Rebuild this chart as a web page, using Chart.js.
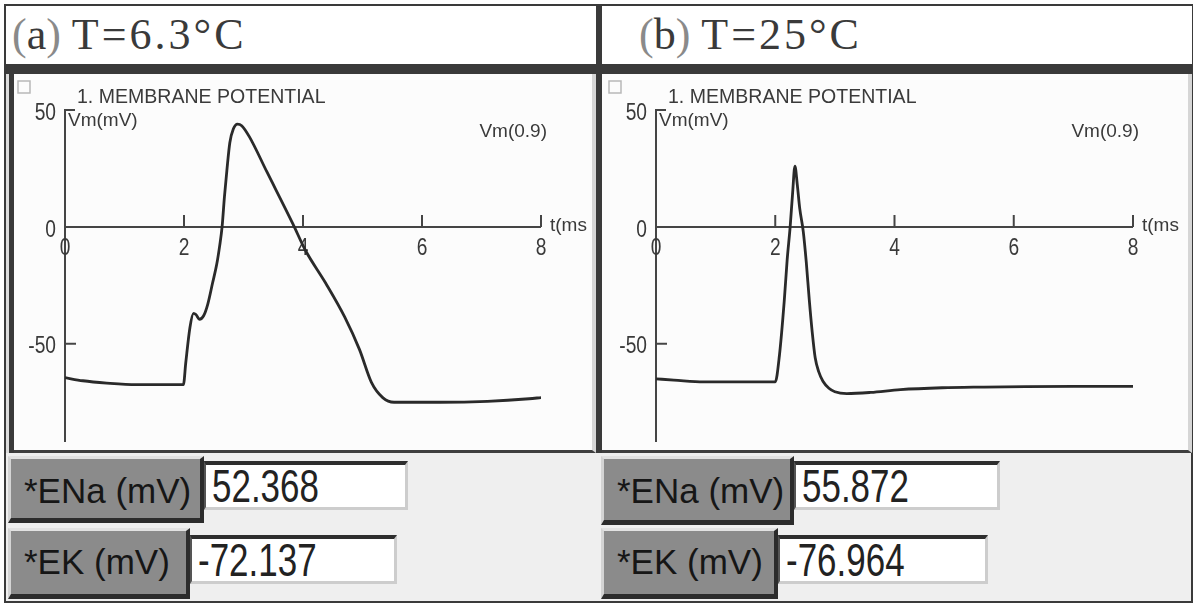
<!DOCTYPE html>
<html lang="en">
  <head>
    <meta charset="UTF-8" />
    <title>Membrane potential</title>
    <script src="https://cdn.jsdelivr.net/npm/chart.js@4.4.1/dist/chart.umd.min.js"></script>
    <style>
      body { margin: 0; width: 1200px; height: 609px; background: #fff; position: relative; overflow: hidden; }
      .abs { position: absolute; box-sizing: border-box; }
      #frame { left: 4px; top: 4px; width: 1189px; height: 599px; border: 2px solid #3a3a3a; }
      .title { top: 6px; height: 58px; background: #fff; font: 44px "Liberation Serif", serif; color: #3a3a3a; line-height: 58px; white-space: nowrap; }
      .title .p { color: #8a8a8a; }
      .title .t { letter-spacing: 3px; }
      #bar { left: 6px; top: 64px; width: 1186px; height: 10px; background: #3a3a3a; }
      #divider { left: 596px; top: 6px; width: 6px; height: 448px; background: #3a3a3a; }
      .plotbox { top: 74px; height: 379px; background: #fcfcfc; border-bottom: 3px solid #3f3f3f; border-right: 4px solid #d6d6d6; }
      #leftedge { left: 6px; top: 74px; width: 8px; height: 379px; background: #3a3a3a; border-left: 3px solid #dcdcdc; }
      #bottom { left: 6px; top: 453px; width: 1185px; height: 148px; background: #efefef; }
      canvas { position: absolute; }
      .btn { background: #8b8b8b; border-top: 3px solid #e2e2e2; border-left: 3px solid #d4d4d4;
             border-right: 4px solid #2c2c2c; border-bottom: 5px solid #2c2c2c;
             font: 35px "Liberation Sans", sans-serif;
             color: #161616; padding-left: 13px; white-space: nowrap; }
      .fld { background: #fff; border-top: 4px solid #2e2e2e; border-left: 2px solid #555;
             border-right: 3px solid #cdcdcd; border-bottom: 3px solid #cdcdcd;
             font: 46px "Liberation Sans", sans-serif; color: #222;
             padding-left: 6px; line-height: 42px; white-space: nowrap; }
      .sq { display: inline-block; transform-origin: left center; }
      .fld .sq { transform: scaleX(0.76); }
    </style>
  </head>
  <body>
    <div class="abs" id="frame"></div>
    <div class="abs title" id="titleA" style="left: 6px; width: 590px; padding-left: 6px"></div>
    <div class="abs title" id="titleB" style="left: 602px; width: 590px; padding-left: 37px"></div>
    <div class="abs" id="bar"></div>
    <div class="abs plotbox" style="left: 14px; width: 582px"></div>
    <div class="abs plotbox" style="left: 602px; width: 590px"></div>
    <div class="abs" id="leftedge"></div>
    <div class="abs" id="divider"></div>
    <div class="abs" id="bottom"></div>

    <canvas id="chartA" width="578" height="376" style="left: 14px; top: 74px"></canvas>
    <canvas id="chartB" width="586" height="376" style="left: 602px; top: 74px"></canvas>

    <div class="abs btn" style="left: 8px; top: 456px; width: 196px; height: 67px; line-height: 64px" id="enaBtnA"></div>
    <div class="abs fld" style="left: 204px; top: 461px; width: 204px; height: 49px" id="enaA"></div>
    <div class="abs btn" style="left: 8px; top: 528px; width: 182px; height: 71px; line-height: 61px" id="ekBtnA"></div>
    <div class="abs fld" style="left: 190px; top: 535px; width: 207px; height: 49px" id="ekA"></div>

    <div class="abs btn" style="left: 601px; top: 456px; width: 193px; height: 69px; line-height: 64px" id="enaBtnB"></div>
    <div class="abs fld" style="left: 794px; top: 461px; width: 206px; height: 49px" id="enaB"></div>
    <div class="abs btn" style="left: 601px; top: 528px; width: 177px; height: 71px; line-height: 61px" id="ekBtnB"></div>
    <div class="abs fld" style="left: 778px; top: 535px; width: 210px; height: 49px" id="ekB"></div>

    <script>
      // panel titles and input values
      const panelLetters = ["a", "b"];
      const panelTemps = ["T=6.3°C", "T=25°C"];
      const btnLabels = ["*ENa (mV)", "*EK (mV)"];
      const enaValues = ["52.368", "55.872"];
      const ekValues = ["-72.137", "-76.964"];

      // axis ticks
      const xTicks = [0, 2, 4, 6, 8];
      const xTickMarks = [2, 4, 6, 8];
      const yTicks = [50, 0, -50];
      const yMin = -92;
      const yMax = 50;

      // (a) 6.3 C trace: time (ms) / Vm (mV)
      const tA = [0, 0.3, 0.7, 1.2, 1.99, 2.03, 2.1, 2.16, 2.2, 2.26, 2.33, 2.4, 2.48, 2.55, 2.6, 2.64, 2.68,
        2.72, 2.77, 2.83, 2.9, 2.97, 3.1, 3.39, 3.83, 4.04, 4.38, 4.7, 4.95, 5.15, 5.34, 5.53, 6.3, 7.1, 7.8, 8.0];
      const vA = [-64.5, -65.8, -66.8, -67.5, -67.5, -58, -43, -37, -37.5, -39.5, -38, -33, -24, -16, -8, 0, 13,
        24, 36, 42, 44, 43.3, 38.5, 23.7, 1.3, -10, -24, -38.5, -52.5, -66.5, -73, -75, -75, -74.6, -73.5, -73];

      // (b) 25 C trace
      const tB = [0, 0.3, 0.8, 1.5, 2.0, 2.07, 2.15, 2.2, 2.25, 2.29, 2.33, 2.37, 2.41, 2.47, 2.52, 2.57, 2.62,
        2.67, 2.73, 2.8, 2.9, 3.0, 3.2, 3.6, 4.1, 4.8, 5.5, 6.2, 7.0, 8.0];
      const vB = [-65, -65.5, -66.3, -66.3, -66.3, -55, -32, -14, 0, 14, 26, 18, 8, -2, -15, -31, -45,
        -56, -62, -66, -69, -70.5, -71.3, -70.8, -69.6, -68.8, -68.5, -68.3, -68.2, -68.2];

      function setTitle(id, i) {
        document.getElementById(id).innerHTML =
          '<span class="p">(</span>' + panelLetters[i] + '<span class="p">)</span> <span class="t">' +
          panelTemps[i] + "</span>";
      }
      function setText(id, txt) {
        document.getElementById(id).innerHTML = '<span class="sq"></span>';
        document.getElementById(id).firstChild.textContent = txt;
      }
      setTitle("titleA", 0);
      setTitle("titleB", 1);
      setText("enaBtnA", btnLabels[0]);
      setText("enaBtnB", btnLabels[0]);
      setText("ekBtnA", btnLabels[1]);
      setText("ekBtnB", btnLabels[1]);
      setText("enaA", enaValues[0]);
      setText("enaB", enaValues[1]);
      setText("ekA", ekValues[0]);
      setText("ekB", ekValues[1]);

      const FONT = '"Liberation Sans", sans-serif';

      // text squeezed horizontally, like the narrow scope font
      function narrowText(ctx, txt, x, y, sx) {
        ctx.save();
        ctx.translate(x, y);
        ctx.scale(sx, 1);
        ctx.fillText(txt, 0, 0);
        ctx.restore();
      }

      // draws the scope-style axes crossing at zero
      const scopeAxes = {
        id: "scopeAxes",
        beforeDatasetsDraw(chart) {
          const ctx = chart.ctx;
          const xs = chart.scales.x;
          const ys = chart.scales.y;
          const x0 = xs.getPixelForValue(0);
          const x8 = xs.getPixelForValue(8);
          const y0 = ys.getPixelForValue(0);
          const yTop = ys.getPixelForValue(yMax);
          const yBot = ys.getPixelForValue(yMin);
          ctx.save();
          ctx.strokeStyle = "#454545";
          ctx.lineWidth = 2;
          ctx.beginPath();
          ctx.moveTo(x0, yBot);
          ctx.lineTo(x0, yTop);
          ctx.lineTo(x0 + 10, yTop);
          ctx.moveTo(x0, y0);
          ctx.lineTo(x8, y0);
          xTickMarks.forEach((t) => {
            const px = xs.getPixelForValue(t);
            ctx.moveTo(px, y0);
            ctx.lineTo(px, y0 - 12);
          });
          const ym50 = ys.getPixelForValue(-50);
          ctx.moveTo(x0, ym50);
          ctx.lineTo(x0 + 11, ym50);
          ctx.stroke();

          // checkbox
          ctx.strokeStyle = "#b8b8b8";
          ctx.lineWidth = 1.5;
          ctx.strokeRect(x0 - 47, 7, 12, 12);

          ctx.fillStyle = "#3a3a3a";
          ctx.font = "24px " + FONT;
          ctx.textBaseline = "middle";
          ctx.textAlign = "center";
          xTicks.forEach((t) => {
            narrowText(ctx, String(t), xs.getPixelForValue(t), y0 + 21, 0.8);
          });
          ctx.textAlign = "right";
          yTicks.forEach((v) => {
            narrowText(ctx, String(v), x0 - 9, ys.getPixelForValue(v) + 3, 0.8);
          });
          ctx.font = "19px " + FONT;
          ctx.textAlign = "left";
          ctx.fillText("t(ms", x8 + 9, y0 - 1);
          ctx.fillText("Vm(mV)", x0 + 3, yTop + 11);
          ctx.font = "21px " + FONT;
          narrowText(ctx, "1. MEMBRANE POTENTIAL", x0 + 12, yTop - 13, 0.93);
          ctx.font = "19px " + FONT;
          ctx.textAlign = "right";
          ctx.fillText("Vm(0.9)", x8 + 6, yTop + 22);
          ctx.restore();
        },
      };

      function makeChart(id, t, v, pad) {
        return new Chart(id, {
          type: "line",
          data: {
            datasets: [
              {
                data: t.map((x, i) => ({ x: x, y: v[i] })),
                borderColor: "#2a2a2a",
                borderWidth: 2.8,
                pointRadius: 0,
                cubicInterpolationMode: "monotone",
                fill: false,
              },
            ],
          },
          options: {
            responsive: false,
            animation: false,
            devicePixelRatio: 1,
            layout: { padding: pad },
            plugins: { legend: { display: false }, tooltip: { enabled: false } },
            scales: {
              x: { type: "linear", min: 0, max: 8, display: false },
              y: { type: "linear", min: yMin, max: yMax, display: false },
            },
          },
          plugins: [scopeAxes],
        });
      }

      makeChart("chartA", tA, vA, { left: 51, right: 51, top: 36, bottom: 8 });
      makeChart("chartB", tB, vB, { left: 54, right: 55, top: 36, bottom: 8 });
    </script>
  </body>
</html>
